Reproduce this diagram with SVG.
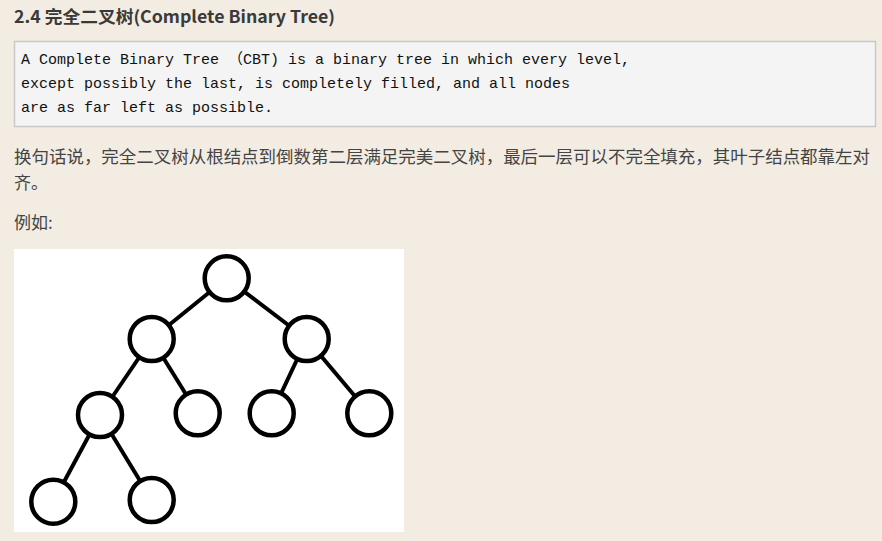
<svg xmlns="http://www.w3.org/2000/svg" width="882" height="541" viewBox="0 0 882 541">
<style>
.h{font-family:"Microsoft YaHei","Noto Sans CJK SC","Liberation Sans",sans-serif;font-weight:bold;font-size:17px;fill:#3a3a3a}
.code{font-family:"Liberation Mono","Noto Sans CJK SC",monospace;font-size:15px;fill:#111}
.p{font-family:"Noto Sans CJK SC","Liberation Sans",sans-serif;font-size:17px;fill:#444}
.node{fill:#fff;stroke:#000;stroke-width:4.5}
.edge{stroke:#000;stroke-width:4;fill:none}
</style>
<rect x="0" y="0" width="882" height="541" fill="#f3ece2"/>
<text class="h" x="14" y="23" textLength="321" lengthAdjust="spacingAndGlyphs">2.4 完全二叉树(Complete Binary Tree)</text>
<rect x="14.5" y="41.5" width="861" height="85" fill="#f4f4f4" stroke="#c8c8c8" stroke-width="1.5"/>
<text class="code" x="21" y="64">A Complete Binary Tree （CBT) is a binary tree in which every level,</text>
<text class="code" x="21" y="88">except possibly the last, is completely filled, and all nodes</text>
<text class="code" x="21" y="112">are as far left as possible.</text>
<text class="p" x="14" y="163" textLength="856" lengthAdjust="spacingAndGlyphs">换句话说，完全二叉树从根结点到倒数第二层满足完美二叉树，最后一层可以不完全填充，其叶子结点都靠左对</text>
<text class="p" x="14" y="189">齐。</text>
<text class="p" x="14" y="229">例如:</text>
<rect x="14" y="249" width="390" height="283" fill="#fff"/>
<g id="connectors">
<line class="edge" x1="226.7" y1="278.3" x2="151.7" y2="339"/>
<line class="edge" x1="226.7" y1="278.3" x2="306.7" y2="339"/>
<line class="edge" x1="151.7" y1="339" x2="100" y2="415"/>
<line class="edge" x1="151.7" y1="339" x2="197.7" y2="413.3"/>
<line class="edge" x1="306.7" y1="339" x2="271.7" y2="413.3"/>
<line class="edge" x1="306.7" y1="339" x2="369.3" y2="413.3"/>
<line class="edge" x1="100" y1="415" x2="53.3" y2="501.7"/>
<line class="edge" x1="100" y1="415" x2="151.7" y2="500"/>
</g>
<g id="n1"><circle class="node" cx="226.7" cy="278.3" r="22"/></g>
<g id="n2"><circle class="node" cx="151.7" cy="339" r="22"/></g>
<g id="n3"><circle class="node" cx="306.7" cy="339" r="22"/></g>
<g id="n4"><circle class="node" cx="100" cy="415" r="22"/></g>
<g id="n5"><circle class="node" cx="197.7" cy="413.3" r="22"/></g>
<g id="n6"><circle class="node" cx="271.7" cy="413.3" r="22"/></g>
<g id="n7"><circle class="node" cx="369.3" cy="413.3" r="22"/></g>
<g id="n8"><circle class="node" cx="53.3" cy="501.7" r="22"/></g>
<g id="n9"><circle class="node" cx="151.7" cy="500" r="22"/></g>
</svg>
